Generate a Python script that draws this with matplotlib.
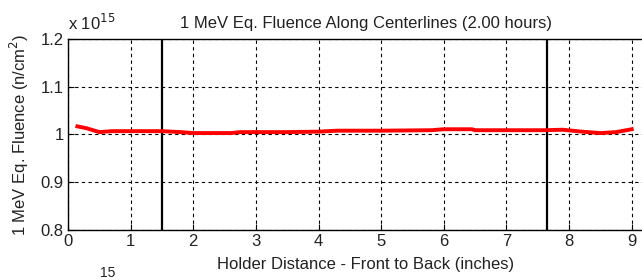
import numpy as np
import matplotlib
matplotlib.use('Agg')
from matplotlib import pyplot as plt

# data (values in units of 1e15)
dist = [0.15, 0.3, 0.5, 0.7, 1.0, 1.5, 1.8, 2.0, 2.6, 2.75, 3.5, 4.0, 4.3,
        5.0, 5.8, 6.0, 6.45, 6.5, 7.0, 7.6, 7.9, 8.2, 8.5, 8.75, 9.0]
fluence = [1.017, 1.013, 1.005, 1.007, 1.007, 1.007, 1.005, 1.003, 1.003,
           1.005, 1.005, 1.006, 1.008, 1.008, 1.009, 1.011, 1.011, 1.009,
           1.009, 1.009, 1.010, 1.006, 1.003, 1.005, 1.011]
holder_edges = [1.5, 7.65]
xticks = [0, 1, 2, 3, 4, 5, 6, 7, 8, 9]
yticks = [0.8, 0.9, 1.0, 1.1, 1.2]
yticklabels = ['0.8', '0.9', '1', '1.1', '1.2']

plt.rcParams['font.family'] = ['Liberation Sans', 'DejaVu Sans']
fs = 12
txt = '#222222'

fig = plt.figure(figsize=(6.42, 2.8), dpi=100)
ax = fig.add_axes([68/642, 50/280, 595/642, 191/280])

ax.plot(dist, fluence, color='red', lw=2.8, zorder=3)
for xv in holder_edges:
    ax.axvline(xv, color='black', lw=1.6, zorder=2)

ax.set_xlim(0, 9.5)
ax.set_ylim(0.8, 1.2)
ax.set_xticks(xticks)
ax.set_yticks(yticks)
ax.set_yticklabels(yticklabels)
ax.grid(True, color='black', lw=0.8, linestyle=(0, (3, 3)))
ax.tick_params(direction='in', length=4, labelsize=fs, labelcolor=txt, pad=3)
for s in ax.spines.values():
    s.set_linewidth(1.0)

ax.set_title('1 MeV Eq. Fluence Along Centerlines (2.00 hours)',
             fontsize=fs, color=txt, pad=8)
ax.set_xlabel('Holder Distance - Front to Back (inches)', fontsize=fs,
              color=txt, labelpad=6)
ax.set_ylabel('1 MeV Eq. Fluence (n/cm$^2$)', fontsize=fs, color=txt,
              labelpad=7)
ax.text(0, 1.03, r'x 10$^{15}$', transform=ax.transAxes, fontsize=fs,
        color=txt, ha='left', va='bottom')
# exponent of the next (cut off) panel, only its "15" shows
fig.text(100/642, 0, '15', fontsize=10, color=txt,
         ha='left', va='bottom')

fig.savefig('out.png', dpi=100)
